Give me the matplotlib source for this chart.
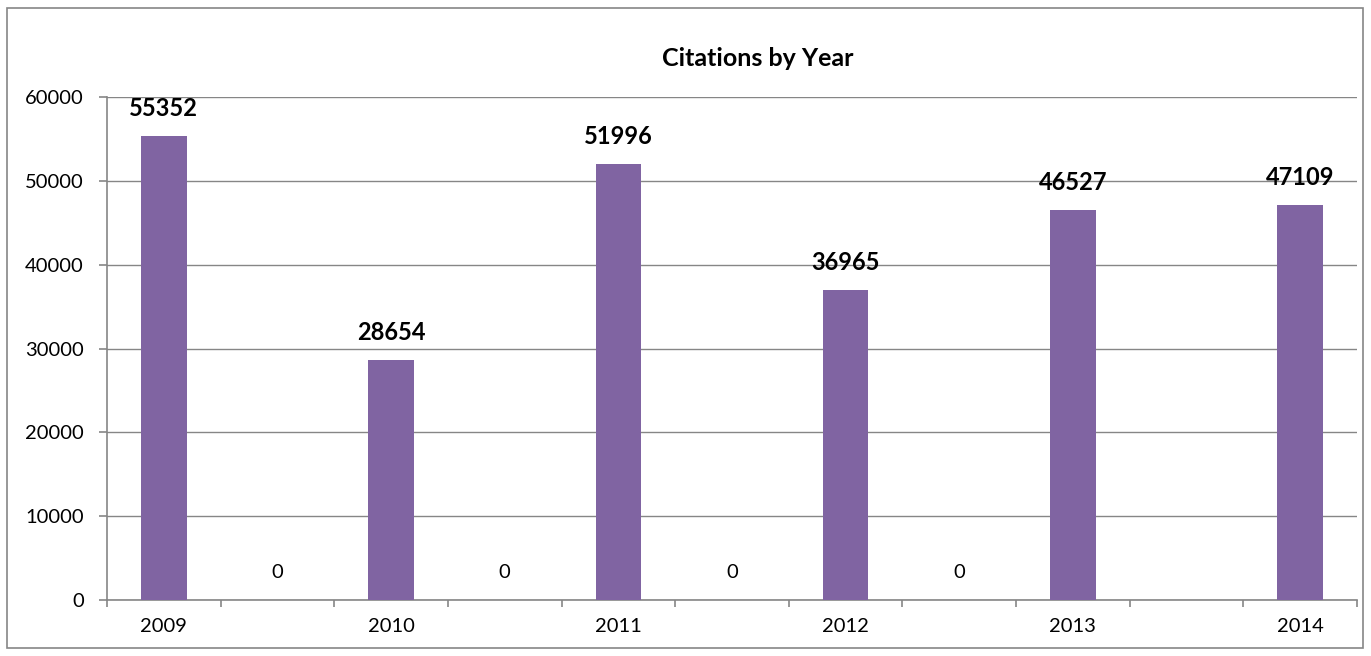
"""
Citations by Year — Excel-style column chart with data labels.
Output: out.png
"""

import numpy as np
import matplotlib
matplotlib.use("Agg")
import matplotlib.pyplot as plt
from matplotlib.patches import Rectangle

# Data (one slot per category; blank labels sit between the years)
categories = ["2009", "", "2010", "", "2011", "", "2012", "", "2013", "", "2014"]
citations = [55352, 0, 28654, 0, 51996, 0, 36965, 0, 46527, np.nan, 47109]
y_ticks = [0, 10000, 20000, 30000, 40000, 50000, 60000]

BAR_COLOR = "#8064A2"
AXIS_COLOR = "#868686"
FONT = ["Lato", "DejaVu Sans"]


def main():
    plt.rcParams["font.family"] = FONT

    fig = plt.figure(figsize=(13.71, 6.56), dpi=100)
    ax = fig.add_axes([107 / 1371, 56 / 656, 1250 / 1371, 503 / 656])

    x = np.arange(len(categories))
    vals = np.array(citations, dtype=float)
    ax.bar(x, np.nan_to_num(vals), width=0.4, color=BAR_COLOR, zorder=3)

    # data labels: bold for real bars, plain for zeros, none for blanks
    for xi, v in zip(x, vals):
        if np.isnan(v):
            continue
        if v > 0:
            ax.annotate(f"{int(v)}", (xi, v), xytext=(0, 20), textcoords="offset points",
                        ha="center", va="center", fontsize=17, fontweight="bold")
        else:
            ax.annotate("0", (xi, v), xytext=(0, 19.5), textcoords="offset points",
                        ha="center", va="center", fontsize=14.5)

    ax.set_xlim(-0.5, len(categories) - 0.5)
    ax.set_ylim(0, 60000)
    ax.set_yticks(y_ticks)
    ax.set_yticklabels([str(t) for t in y_ticks], fontsize=14.5)
    ax.yaxis.grid(True, color=AXIS_COLOR, linewidth=1.0, zorder=0)

    # tick marks on the category boundaries, labels on the centres
    ax.set_xticks(np.arange(-0.5, len(categories), 1.0))
    ax.set_xticklabels([])
    ax.set_xticks(x, minor=True)
    ax.set_xticklabels(categories, minor=True, fontsize=14.5)
    ax.tick_params(axis="x", which="major", length=5, color=AXIS_COLOR, width=1.2)
    ax.tick_params(axis="x", which="minor", length=0, pad=13)
    ax.tick_params(axis="y", length=5.8, color=AXIS_COLOR, width=1.2, pad=11)

    for side in ("top", "right"):
        ax.spines[side].set_visible(False)
    for side in ("left", "bottom"):
        ax.spines[side].set_color(AXIS_COLOR)
        ax.spines[side].set_linewidth(1.2)

    fig.text(758 / 1371, 1 - 58 / 656, "Citations by Year", ha="center", va="center",
             fontsize=18, fontweight="bold")

    # outer chart-area border
    fig.patches.append(Rectangle((7 / 1371, 8 / 656), 1356 / 1371, 640 / 656,
                                 transform=fig.transFigure, fill=False,
                                 edgecolor=AXIS_COLOR, linewidth=1.2))

    fig.savefig("out.png", dpi=100)


if __name__ == "__main__":
    main()
